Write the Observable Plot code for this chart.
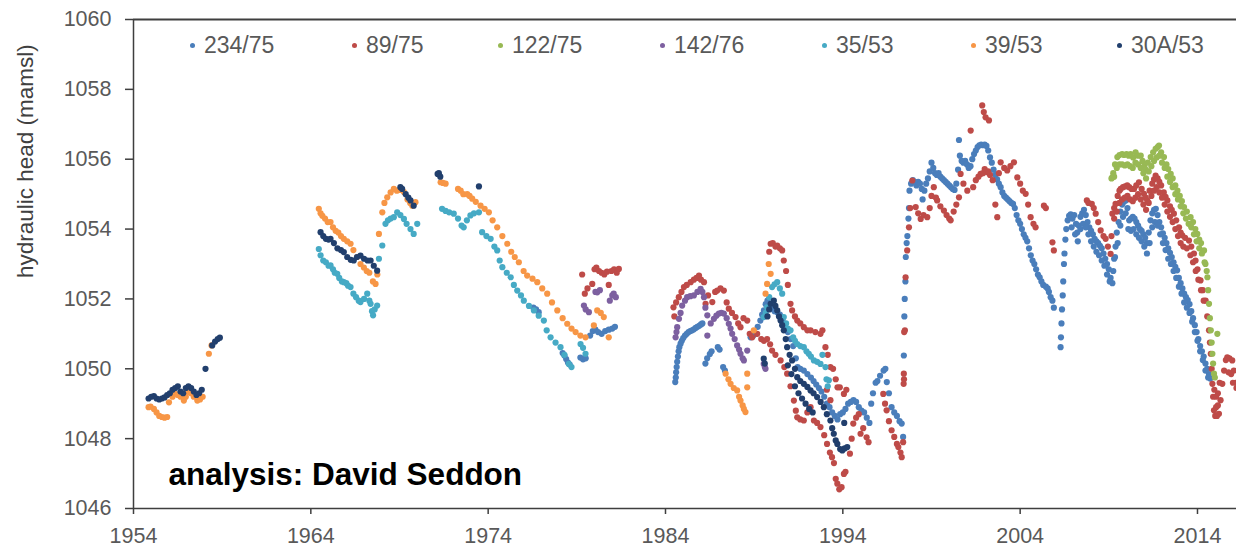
<!DOCTYPE html>
<html>
<head>
<meta charset="utf-8">
<script src="https://cdn.jsdelivr.net/npm/d3@7"></script>
<script src="https://cdn.jsdelivr.net/npm/@observablehq/plot@0.6"></script>
<style>
  html, body { margin: 0; padding: 0; background: #fff; }
  #wrap { position: relative; width: 1236px; height: 548px; overflow: hidden; font-family: "Liberation Sans", Arial, sans-serif; }
  #legend { position: absolute; top: 32px; left: 0; width: 1236px; height: 30px; }
  .item { position: absolute; top: 0; display: flex; align-items: center; font-size: 23px; color: #595959; white-space: nowrap; }
  .item i { display: inline-block; width: 5px; height: 5px; border-radius: 50%; margin-right: 9px; }
</style>
</head>
<body>
<div id="wrap"><div id="legend"></div></div>
<script>
// Observation wells, in legend order
const wells = ["234/75", "89/75", "122/75", "142/76", "35/53", "39/53", "30A/53"];
const wellColors = ["#4a7ebb", "#be4b48", "#98b954", "#7d60a0", "#46aac5", "#f79646", "#213f6d"];
const legendLeft = [190, 352, 498, 660, 822, 971, 1117];

const xTicks = [1954, 1964, 1974, 1984, 1994, 2004, 2014];
const yTicks = [1046, 1048, 1050, 1052, 1054, 1056, 1058, 1060];
const yLabel = "hydraulic head (mamsl)";
const credit = "analysis: David Seddon";

// [year, hydraulic head in metres above mean sea level]
const s234_75 = [
  [1976.55,1051.75],[1976.7,1051.7],[1976.85,1051.62],
  [1978.2,1050.45],[1978.3,1050.38],[1978.4,1050.28],[1978.5,1050.18],[1978.6,1050.12],
  [1979.2,1050.32],[1979.35,1050.27],[1979.5,1050.3],[1979.75,1050.95],[1979.9,1051.08],[1980.05,1051.12],[1980.2,1051.05],[1980.4,1051.0],[1980.6,1051.08],[1980.8,1051.12],[1981.0,1051.15],[1981.15,1051.2],
  [1984.55,1049.62],[1984.58,1049.75],[1984.6,1049.9],[1984.63,1050.05],[1984.66,1050.2],[1984.7,1050.35],[1984.74,1050.5],[1984.78,1050.62],[1984.85,1050.72],[1984.92,1050.8],[1985.0,1050.88],[1985.1,1050.95],[1985.2,1051.0],[1985.3,1051.05],[1985.4,1051.08],[1985.5,1051.1],[1985.6,1051.13],[1985.7,1051.17],[1985.8,1051.2],[1985.9,1051.23],[1986.0,1051.27],[1986.08,1051.3],
  [1986.25,1050.15],[1986.35,1050.3],[1986.5,1050.42],[1986.6,1050.5],[1986.95,1050.62],[1987.05,1050.55],[1987.25,1050.05],[1987.35,1049.95],
  [1988.8,1050.9],[1988.95,1050.95],[1989.1,1051.0],[1989.2,1051.2],[1989.35,1051.38],[1989.45,1051.55],[1989.55,1051.67],[1989.65,1051.85],[1989.75,1051.95],[1989.85,1051.85],[1990.0,1051.72],[1990.15,1051.65],[1990.3,1051.62],[1990.45,1051.55],[1990.6,1051.4],[1990.75,1051.2],[1990.9,1051.05],[1991.05,1050.85],[1991.2,1050.65],[1991.35,1050.3],[1991.45,1050.05],[1991.6,1050.0],[1991.8,1049.95],[1992.0,1049.85],[1992.2,1049.75],[1992.35,1049.65],[1992.5,1049.55],[1992.65,1049.45],[1992.8,1049.35],[1992.95,1049.2],[1993.1,1049.0],[1993.25,1048.9],[1993.4,1048.75],[1993.55,1048.65],
  [1993.7,1048.55],[1993.85,1048.7],[1994.0,1048.75],[1994.15,1048.85],[1994.3,1049.0],[1994.45,1049.05],[1994.6,1049.1],[1994.75,1049.05],[1994.9,1048.9],[1995.05,1048.8],[1995.2,1048.75],[1995.35,1048.6],[1995.5,1048.45],[1995.6,1049.0],[1995.7,1049.3],[1995.85,1049.6],[1995.95,1049.65],[1996.1,1049.8],[1996.3,1049.95],[1996.4,1050.0],[1996.48,1049.62],[1996.6,1049.3],[1996.75,1048.9],[1996.9,1048.75],[1997.05,1048.65],[1997.2,1048.5],[1997.32,1048.43],[1997.4,1048.05],
  [1997.44,1050.38],[1997.47,1051.5],[1997.49,1052.0],[1997.53,1052.5],[1997.55,1053.2],[1997.6,1053.6],[1997.64,1053.8],[1997.7,1054.3],[1997.73,1054.6],[1997.76,1055.1],[1997.85,1055.3],
  [1997.95,1055.4],[1998.05,1055.35],[1998.15,1055.25],[1998.25,1055.35],[1998.35,1055.3],[1998.45,1055.15],[1998.5,1054.85],[1998.6,1055.1],[1998.7,1055.3],[1998.8,1055.45],[1998.9,1055.65],[1999.0,1055.9],[1999.1,1055.75],[1999.2,1055.6],[1999.3,1055.55],[1999.4,1055.6],[1999.5,1055.5],[1999.6,1055.45],[1999.7,1055.4],[1999.8,1055.35],[1999.9,1055.3],[2000.0,1055.25],[2000.1,1055.2],[2000.2,1055.15],[2000.3,1055.12],[2000.4,1055.3],[2000.5,1055.7],[2000.55,1056.55],[2000.6,1056.1],[2000.7,1055.95],[2000.8,1055.9],[2000.9,1055.95],[2001.0,1055.85],[2001.1,1055.75],[2001.2,1055.8],[2001.3,1056.0],[2001.4,1056.15],[2001.5,1056.25],[2001.6,1056.35],[2001.7,1056.4],[2001.8,1056.42],[2001.9,1056.4],[2002.0,1056.42],[2002.1,1056.38],[2002.2,1056.25],[2002.3,1056.05],[2002.4,1055.9],[2002.5,1055.7],[2002.6,1055.55],[2002.7,1055.42],[2002.8,1055.3],[2002.9,1055.2],[2003.0,1055.05],[2003.1,1054.95],[2003.2,1054.9],[2003.3,1054.85],[2003.4,1054.8],[2003.5,1054.75],[2003.6,1054.72],[2003.7,1054.6],[2003.8,1054.4],[2003.9,1054.25],[2004.0,1054.15],[2004.1,1054.0],[2004.2,1053.85],[2004.3,1053.75],[2004.4,1053.65],[2004.5,1053.45],[2004.6,1053.25],[2004.7,1053.1],[2004.8,1053.0],[2004.9,1052.85],[2005.0,1052.7],[2005.1,1052.62],[2005.2,1052.5],[2005.3,1052.4],[2005.45,1052.35],[2005.55,1052.3],[2005.62,1052.2],[2005.72,1052.05],[2005.82,1051.95],[2005.9,1051.75],
  [2006.28,1050.62],[2006.3,1050.9],[2006.33,1051.3],[2006.36,1051.7],[2006.4,1052.1],[2006.43,1052.5],[2006.47,1053.0],[2006.5,1053.3],[2006.55,1053.7],[2006.6,1054.0],[2006.68,1054.25],[2006.76,1054.38],[2006.85,1054.42],[2006.95,1054.3],[2007.05,1054.4],[2007.15,1054.15],[2007.22,1053.9],[2007.3,1054.1],[2007.4,1054.35],[2007.5,1054.45],[2007.6,1054.55],[2007.7,1054.4],[2007.8,1054.2],[2007.9,1054.05],[2008.0,1053.95],[2008.1,1053.85],[2008.2,1053.72],[2008.3,1053.65],[2008.4,1053.6],[2008.5,1053.52],[2008.6,1053.45],[2008.7,1053.3],[2008.8,1053.15],[2008.9,1053.0],[2009.0,1052.85],[2009.1,1052.6],[2009.2,1052.45],[2009.25,1052.8],[2009.3,1053.15],[2009.38,1053.5],[2009.45,1053.9],[2009.55,1054.2],[2009.65,1054.5],[2009.75,1054.7],[2009.85,1054.78],[2009.95,1054.82],[2010.05,1054.6],[2010.15,1054.25],[2010.25,1054.3],[2010.35,1054.35],[2010.45,1054.3],[2010.55,1054.2],[2010.65,1054.1],[2010.75,1054.0],[2010.85,1053.95],[2010.95,1053.85],[2011.05,1053.75],[2011.15,1053.6],[2011.25,1053.9],[2011.35,1054.25],[2011.45,1054.45],[2011.55,1054.55],[2011.65,1054.58],[2011.75,1054.4],[2011.85,1054.2],[2011.95,1054.05],[2012.05,1053.88],[2012.15,1053.75],[2012.25,1053.6],[2012.35,1053.45],[2012.45,1053.32],[2012.55,1053.2],[2012.65,1053.05],[2012.75,1052.92],[2012.85,1052.82],[2012.95,1052.6],[2013.05,1052.45],[2013.15,1052.3],[2013.25,1052.15],[2013.35,1052.05],[2013.45,1051.97],[2013.55,1051.85],[2013.65,1051.65],[2013.75,1051.45],[2013.85,1051.25],[2013.95,1051.05],[2014.05,1050.85],[2014.15,1050.65],[2014.25,1050.5],[2014.35,1050.35],[2014.45,1050.15],[2014.55,1050.0],[2014.65,1049.85],[2014.72,1049.72],
  [2006.9,1054.05],[2007.1,1053.85],[2007.25,1053.65],[2007.4,1054.0],[2007.55,1054.15],[2007.7,1054.05],[2007.85,1053.85],[2008.0,1053.65],[2008.15,1053.5],[2008.3,1053.35],[2008.45,1053.25],[2008.6,1053.1],[2008.75,1052.95],[2008.9,1052.7],[2009.05,1052.5],[2009.35,1053.2],[2009.5,1053.6],[2009.65,1054.1],[2009.8,1054.35],[2009.95,1054.45],[2010.1,1054.0],[2010.25,1053.95],[2010.4,1054.0],[2010.55,1053.85],[2010.7,1053.75],[2010.85,1053.65],[2011.0,1053.5],[2011.15,1053.3],[2011.3,1053.6],[2011.45,1054.05],[2011.6,1054.2],[2011.75,1054.1],[2011.9,1053.85],[2012.05,1053.6],[2012.2,1053.4],[2012.35,1053.15],[2012.5,1053.0],[2012.65,1052.8],[2012.8,1052.6],[2012.95,1052.35],[2013.1,1052.15],[2013.25,1051.9],[2013.4,1051.75],[2013.55,1051.6],[2013.7,1051.35],[2013.85,1051.05],[2014.0,1050.8],[2014.15,1050.5],[2014.3,1050.25],[2014.45,1049.95],[2014.6,1049.75]
];

const s89_75 = [
  [1979.3,1052.7],[1979.45,1052.15],[1979.6,1052.3],[1979.87,1052.43],[1980.0,1052.85],[1980.1,1052.9],[1980.25,1052.8],[1980.4,1052.75],[1980.55,1052.7],[1980.7,1052.78],[1980.8,1052.4],[1980.95,1052.8],[1981.1,1052.85],[1981.25,1052.75],[1981.37,1052.86],
  [1984.45,1051.76],[1984.5,1051.5],[1984.6,1051.9],[1984.75,1052.05],[1984.9,1052.2],[1985.04,1052.34],[1985.2,1052.4],[1985.42,1052.48],[1985.6,1052.55],[1985.75,1052.6],[1985.89,1052.67],[1986.0,1052.55],[1986.17,1052.48],[1986.26,1051.86],[1986.4,1052.1],[1986.64,1051.91],[1986.8,1052.2],[1986.92,1052.24],[1987.1,1052.3],[1987.29,1052.24],[1987.45,1051.9],[1987.57,1051.72],[1987.75,1051.6],[1987.95,1051.48],[1988.1,1051.3],[1988.23,1051.19],[1988.4,1051.45],[1988.61,1051.38],[1988.75,1051.0],[1988.89,1050.9],[1989.17,1051.0],[1989.4,1050.85],[1989.55,1050.8],[1989.73,1050.85],
  [1989.85,1053.35],[1989.93,1053.58],[1990.05,1053.6],[1990.2,1053.5],[1990.3,1053.53],[1990.45,1053.45],[1990.58,1053.39],[1990.67,1053.1],[1990.8,1052.8],[1990.9,1052.4],[1991.05,1051.86],[1991.14,1051.67],[1991.3,1051.5],[1991.43,1051.38],[1991.6,1051.3],[1991.8,1051.19],[1992.0,1051.1],[1992.18,1051.1],[1992.45,1051.05],[1992.74,1051.0],[1992.85,1051.1],[1993.02,1050.62],[1993.15,1050.4],[1993.3,1050.05],[1993.45,1050.0],[1993.6,1049.7],[1993.83,1049.47],
  [1989.9,1050.7],[1990.01,1050.52],[1990.2,1050.4],[1990.49,1050.24],[1990.7,1050.05],[1990.86,1049.86],[1991.05,1049.5],[1991.24,1049.09],[1991.35,1048.8],[1991.43,1048.61],[1991.6,1048.55],[1991.8,1048.52],[1992.0,1048.75],[1992.18,1048.9],[1992.37,1048.52],[1992.55,1048.45],[1992.74,1048.33],[1992.95,1048.1],[1993.11,1047.85],[1993.27,1047.6],[1993.39,1047.47],[1993.5,1047.3],[1993.6,1046.85],[1993.69,1046.71],[1993.8,1046.55],[1993.93,1046.61],[1994.06,1046.99],[1994.15,1047.05],
  [1993.1,1049.4],[1993.3,1049.1],[1993.7,1049.47],[1994.06,1049.28],[1994.2,1049.4],
  [1994.4,1047.57],[1994.5,1048.0],[1994.59,1048.43],[1994.75,1048.6],[1994.9,1048.7],[1995.0,1048.14],[1995.15,1048.3],[1995.34,1048.04],[1995.45,1047.9],
  [1996.28,1049.28],[1996.38,1049.0],[1996.47,1048.81],[1996.6,1048.5],[1996.75,1048.24],[1996.9,1048.05],[1997.05,1047.85],[1997.13,1047.76],[1997.25,1047.6],[1997.32,1047.47],[1997.4,1047.9],[1997.43,1049.57],[1997.45,1049.7],[1997.46,1051.05],
  [1997.44,1049.86],[1997.5,1051.1],[1997.54,1052.62],[1997.63,1053.39],[1997.73,1054.05],[1997.8,1054.6],[1997.92,1055.39],[1998.11,1054.63],[1998.25,1054.45],[1998.39,1054.29],[1998.55,1054.4],[1998.76,1054.34],[1998.9,1054.6],[1999.0,1054.95],[1999.13,1055.2],[1999.25,1054.9],[1999.32,1054.82],[1999.5,1054.65],[1999.7,1054.53],[1999.85,1054.4],[2000.0,1054.3],[2000.08,1054.25],[2000.25,1054.5],[2000.4,1054.7],[2000.55,1054.91],[2000.64,1055.58],[2000.8,1055.3],[2001.02,1055.1],[2001.21,1056.82],[2001.35,1055.2],[2001.5,1055.4],[2001.65,1055.5],[2001.77,1055.58],[2001.86,1057.54],[2001.95,1057.35],[2002.05,1057.2],[2002.14,1055.63],[2002.24,1057.11],[2002.3,1055.55],[2002.45,1055.4],[2002.6,1054.7],[2002.71,1054.34],[2002.8,1055.6],[2002.9,1055.91],[2003.1,1055.75],[2003.27,1055.68],[2003.45,1055.8],[2003.65,1055.91],[2003.84,1055.48],[2004.0,1055.3],[2004.15,1055.1],[2004.31,1055.01],[2004.45,1054.7],[2004.59,1054.34],[2004.75,1054.15],[2004.87,1054.05],[2005.34,1054.67],[2005.45,1054.6],[2005.82,1053.62],[2005.9,1053.39],
  [2001.9,1055.6],[2002.0,1055.72],[2002.2,1055.65],
  [2007.76,1054.82],[2007.85,1054.75],[2008.04,1054.72],[2008.15,1054.6],[2008.26,1054.44],[2008.4,1054.2],[2008.54,1053.96],[2008.7,1053.8],[2008.82,1053.72],[2008.95,1053.5],[2009.1,1053.29],[2009.15,1053.8],[2009.2,1054.44],[2009.3,1054.6],[2009.38,1054.72],[2009.5,1054.95],[2009.6,1055.1],[2009.67,1055.15],[2009.8,1055.2],[2009.92,1055.22],[2010.04,1055.25],[2010.15,1055.2],[2010.28,1055.15],[2010.42,1055.15],[2010.55,1055.25],[2010.7,1055.34],[2010.85,1055.15],[2010.98,1055.01],[2011.08,1054.9],[2011.17,1054.82],[2011.3,1055.1],[2011.45,1055.3],[2011.55,1055.42],[2011.64,1055.53],[2011.75,1055.45],[2011.85,1055.35],[2011.95,1055.25],[2012.1,1055.05],[2012.2,1054.92],[2012.3,1054.82],[2012.45,1054.65],[2012.55,1054.55],[2012.67,1054.44],[2012.8,1054.25],[2012.96,1054.05],[2013.05,1053.9],[2013.14,1053.82],[2013.3,1053.75],[2013.52,1053.67],[2013.65,1053.5],[2013.8,1053.3],[2013.89,1053.1],[2014.0,1052.85],[2014.17,1052.53],[2014.3,1052.25],[2014.46,1051.95],[2014.55,1051.5],[2014.65,1051.1],[2014.7,1050.75],[2014.75,1050.43],[2014.8,1050.0],[2014.84,1049.57],[2014.88,1049.2],[2014.93,1048.81],[2015.0,1048.65],[2015.1,1048.65],[2015.21,1048.71],[2015.3,1049.1],[2015.4,1049.57],[2015.5,1049.95],[2015.6,1050.25],[2015.68,1050.33],[2015.8,1050.3],[2015.96,1050.24],[2016.05,1049.95],[2016.15,1049.6],[2016.2,1049.45],
  [2014.95,1049.4],[2015.05,1049.2],[2015.15,1049.3],[2015.25,1049.6],[2015.05,1048.9],[2015.15,1048.95],[2015.75,1049.9],[2015.9,1049.85],[2016.0,1049.6],
  [2009.3,1054.3],[2009.45,1054.5],[2009.6,1054.75],[2009.75,1054.85],[2009.9,1054.9],[2010.05,1054.95],[2010.2,1054.85],[2010.35,1054.8],[2010.5,1054.9],[2010.65,1055.0],[2010.8,1054.85],[2010.95,1054.7],[2011.1,1054.55],[2011.25,1054.75],[2011.4,1054.95],[2011.55,1055.1],[2011.7,1055.2],[2011.85,1055.05],[2012.0,1054.9],[2012.15,1054.7],[2012.3,1054.5],[2012.45,1054.35],[2012.6,1054.2],[2012.75,1054.0],[2012.9,1053.8],[2013.05,1053.6],[2013.2,1053.5],[2013.4,1053.45],[2013.6,1053.25],[2013.75,1053.05],[2013.9,1052.8],[2014.05,1052.55],[2014.2,1052.25],[2014.35,1051.95]
];

const s122_75 = [
  [2009.15,1055.45],[2009.2,1055.48],[2009.25,1055.6],[2009.35,1055.85],[2009.48,1056.06],[2009.6,1056.12],[2009.75,1056.15],[2009.86,1056.12],[2010.0,1056.15],[2010.12,1056.1],[2010.23,1056.15],[2010.37,1056.05],[2010.51,1056.2],[2010.65,1056.1],[2010.8,1056.1],[2010.9,1055.95],[2011.0,1055.8],[2011.08,1055.7],[2011.2,1055.9],[2011.36,1056.06],[2011.5,1056.2],[2011.64,1056.3],[2011.75,1056.35],[2011.83,1056.39],[2011.95,1056.2],[2012.11,1056.06],[2012.25,1055.85],[2012.35,1055.72],[2012.49,1055.58],[2012.6,1055.45],[2012.75,1055.25],[2012.87,1055.1],[2013.0,1054.95],[2013.12,1054.8],[2013.24,1054.63],[2013.4,1054.5],[2013.61,1054.34],[2013.75,1054.2],[2013.88,1054.0],[2013.99,1053.86],[2014.1,1053.7],[2014.2,1053.6],[2014.37,1053.39],[2014.45,1053.0],[2014.52,1052.8],[2014.56,1052.62],[2014.6,1052.25],[2014.65,1051.86],[2014.7,1051.45],[2014.75,1051.1],[2014.8,1050.75],[2014.84,1050.43],[2014.88,1050.15],[2014.93,1049.86],[2014.98,1049.75],[2015.12,1051.0],
  [2009.3,1055.5],[2009.45,1055.75],[2009.6,1055.85],[2009.75,1055.85],[2009.9,1055.82],[2010.05,1055.85],[2010.2,1055.8],[2010.35,1055.75],[2010.5,1055.9],[2010.65,1055.85],[2010.8,1055.75],[2010.95,1055.6],[2011.1,1055.45],[2011.25,1055.65],[2011.4,1055.8],[2011.55,1055.95],[2011.7,1056.05],[2011.85,1056.1],[2012.0,1055.9],[2012.15,1055.75],[2012.3,1055.5],[2012.45,1055.35],[2012.6,1055.2],[2012.75,1055.0],[2012.9,1054.85],[2013.05,1054.65],[2013.2,1054.45],[2013.35,1054.3],[2013.5,1054.15],[2013.65,1054.05],[2013.8,1053.85],[2013.95,1053.65],[2014.1,1053.45],[2014.25,1053.3],[2014.4,1053.05]
];

const s142_76 = [
  [1979.4,1051.81],[1979.5,1051.7],[1979.68,1051.62],[1980.05,1052.2],[1980.15,1052.19],[1980.3,1052.25],[1980.86,1051.95],[1981.0,1052.1],[1981.08,1052.15],[1981.2,1052.05],
  [1984.57,1050.9],[1984.62,1051.05],[1984.66,1051.19],[1984.76,1051.43],[1984.85,1051.6],[1984.94,1051.81],[1985.1,1051.95],[1985.22,1052.05],[1985.4,1052.08],[1985.6,1052.1],[1985.8,1052.2],[1985.98,1052.29],[1986.08,1052.2],[1986.17,1052.05],[1986.25,1051.75],[1986.36,1051.53],[1986.36,1050.95],[1986.55,1051.3],[1986.73,1051.43],[1986.87,1051.52],[1987.01,1051.58],[1987.15,1051.6],[1987.29,1051.58],[1987.45,1051.45],[1987.57,1051.29],[1987.67,1051.15],[1987.76,1051.0],[1987.9,1050.85],[1988.04,1050.67],[1988.15,1050.55],[1988.23,1050.43],[1988.35,1050.3],[1988.42,1050.24],[1988.61,1050.52],[1989.54,1050.14],[1989.6,1050.05],[1989.64,1050.0]
];

const s35_53 = [
  [1964.45,1053.43],[1964.55,1053.25],[1964.7,1053.1],[1964.85,1053.05],[1965.0,1052.95],[1965.11,1052.96],[1965.25,1052.85],[1965.35,1052.75],[1965.49,1052.72],[1965.6,1052.6],[1965.75,1052.5],[1965.86,1052.48],[1966.0,1052.45],[1966.1,1052.38],[1966.24,1052.34],[1966.4,1052.15],[1966.55,1052.05],[1966.7,1051.95],[1966.8,1051.91],[1967.0,1052.0],[1967.18,1052.15],[1967.3,1051.95],[1967.37,1051.86],[1967.45,1051.65],[1967.51,1051.53],[1967.6,1051.7],[1967.74,1051.81],
  [1967.84,1053.15],[1968.03,1053.53],[1968.21,1054.15],[1968.35,1054.25],[1968.5,1054.3],[1968.68,1054.34],[1968.87,1054.48],[1969.05,1054.4],[1969.25,1054.29],[1969.4,1054.15],[1969.62,1054.0],[1969.8,1053.86],[1970.0,1054.15],
  [1971.4,1054.58],[1971.6,1054.52],[1971.8,1054.48],[1972.06,1054.44],[1972.3,1054.3],[1972.5,1054.1],[1972.62,1054.05],[1972.8,1054.25],[1973.0,1054.39],[1973.2,1054.45],[1973.48,1054.48],[1973.66,1053.91],[1973.9,1053.8],[1974.14,1053.72],[1974.35,1053.5],[1974.51,1053.39],[1974.65,1053.1],[1974.8,1052.91],[1975.05,1052.75],[1975.27,1052.62],[1975.45,1052.4],[1975.64,1052.24],[1975.85,1052.1],[1976.01,1051.95],[1976.3,1051.8],[1976.58,1051.67],[1976.85,1051.52],[1977.14,1051.38],[1977.3,1051.1],[1977.52,1050.9],[1977.8,1050.75],[1978.08,1050.62],[1978.3,1050.4],[1978.55,1050.14],[1978.7,1050.05],[1979.21,1050.71],[1979.35,1050.6],[1979.49,1050.43],
  [1989.54,1051.48],[1989.65,1051.6],[1989.73,1051.76],[1989.85,1052.05],[1990.01,1052.34],[1990.15,1052.42],[1990.3,1052.48],[1990.45,1052.3],[1990.58,1052.15],[1990.67,1051.48],[1990.8,1051.3],[1990.9,1051.15],[1991.05,1051.1],[1991.2,1050.9],[1991.3,1050.8],[1991.43,1050.71],[1991.6,1050.65],[1991.8,1050.62],[1991.95,1050.5],[1992.08,1050.43],[1992.2,1050.35],[1992.37,1050.24],[1992.55,1050.2],[1992.74,1050.14],[1992.85,1050.4],[1993.02,1050.05],[1993.08,1049.7],[1993.15,1049.5],[1993.21,1049.67]
];

const s39_53 = [
  [1954.85,1048.9],[1954.96,1048.92],[1955.15,1048.85],[1955.3,1048.75],[1955.45,1048.65],[1955.6,1048.62],[1955.75,1048.6],[1955.9,1048.62],[1956.0,1049.04],[1956.2,1049.2],[1956.35,1049.28],[1956.5,1049.25],[1956.65,1049.2],[1956.84,1049.09],[1956.95,1049.2],[1957.1,1049.33],[1957.25,1049.3],[1957.4,1049.2],[1957.6,1049.09],[1957.75,1049.12],[1957.9,1049.2],[1958.25,1050.43],[1958.4,1050.67],
  [1964.45,1054.58],[1964.55,1054.45],[1964.65,1054.38],[1964.8,1054.3],[1964.95,1054.2],[1965.11,1054.2],[1965.25,1054.05],[1965.4,1053.95],[1965.55,1053.9],[1965.7,1053.8],[1965.86,1053.72],[1966.05,1053.65],[1966.24,1053.58],[1966.4,1053.4],[1966.61,1053.2],[1966.8,1053.0],[1966.99,1052.9],[1967.15,1052.8],[1967.3,1052.75],[1967.5,1052.5],[1967.65,1052.43],[1967.75,1052.7],[1967.84,1053.86],[1968.03,1054.48],[1968.15,1054.75],[1968.31,1054.91],[1968.5,1055.05],[1968.68,1055.15],[1968.85,1055.1],[1969.05,1055.12],[1969.25,1055.06],[1969.45,1054.85],[1969.6,1054.75],[1969.72,1054.67],[1969.9,1054.77],
  [1971.32,1055.34],[1971.45,1055.32],[1971.6,1055.3],[1972.3,1055.15],[1972.45,1055.1],[1972.6,1055.0],[1972.82,1055.0],[1972.95,1054.95],[1973.1,1054.87],[1973.3,1054.78],[1973.57,1054.67],[1973.8,1054.58],[1974.04,1054.48],[1974.25,1054.25],[1974.51,1054.05],[1974.8,1053.8],[1975.08,1053.58],[1975.3,1053.35],[1975.5,1053.2],[1975.73,1053.05],[1976.0,1052.8],[1976.2,1052.67],[1976.5,1052.58],[1976.77,1052.48],[1977.05,1052.3],[1977.33,1052.15],[1977.6,1051.9],[1977.9,1051.67],[1978.2,1051.45],[1978.46,1051.29],[1978.7,1051.15],[1978.93,1051.05],[1979.2,1050.95],[1979.49,1050.9],[1979.96,1051.24],[1980.15,1051.67],[1980.35,1051.6],[1980.52,1051.48],[1980.8,1050.9],
  [1987.39,1049.86],[1987.55,1049.7],[1987.67,1049.57],[1987.85,1049.45],[1988.04,1049.38],[1988.15,1049.2],[1988.23,1049.09],[1988.35,1048.95],[1988.42,1048.85],[1988.51,1048.76],[1988.61,1049.86],[1988.61,1049.47],[1988.98,1051.1],[1989.64,1052.15],[1989.73,1052.43],[1989.82,1053.0],[1989.93,1052.72]
];

const s30A_53 = [
  [1954.85,1049.15],[1955.0,1049.2],[1955.15,1049.22],[1955.3,1049.15],[1955.45,1049.12],[1955.6,1049.15],[1955.75,1049.18],[1955.9,1049.25],[1956.05,1049.3],[1956.2,1049.4],[1956.35,1049.45],[1956.5,1049.5],[1956.65,1049.35],[1956.8,1049.3],[1956.95,1049.45],[1957.1,1049.5],[1957.25,1049.45],[1957.4,1049.35],[1957.55,1049.25],[1957.7,1049.3],[1957.85,1049.4],[1958.06,1050.0],[1958.44,1050.67],[1958.6,1050.78],[1958.75,1050.85],[1958.87,1050.89],
  [1964.55,1053.91],[1964.7,1053.8],[1964.85,1053.72],[1965.0,1053.7],[1965.11,1053.72],[1965.3,1053.6],[1965.5,1053.45],[1965.7,1053.4],[1965.86,1053.34],[1966.05,1053.2],[1966.25,1053.12],[1966.42,1053.1],[1966.6,1053.2],[1966.8,1053.24],[1967.0,1053.15],[1967.2,1053.1],[1967.37,1053.1],[1967.55,1052.95],[1967.74,1052.81],
  [1969.05,1055.2],[1969.15,1055.15],[1969.35,1055.0],[1969.5,1054.9],[1969.62,1054.82],[1969.8,1054.67],
  [1971.15,1055.58],[1971.22,1055.6],[1971.3,1055.5],[1973.48,1055.22],
  [1989.54,1050.29],[1989.6,1050.15],[1989.75,1051.5],[1989.85,1051.7],[1989.93,1051.86],[1990.11,1051.95],[1990.2,1051.8],[1990.3,1051.67],[1990.4,1051.5],[1990.49,1051.38],[1990.58,1051.25],[1990.67,1051.1],[1990.78,1050.85],[1990.86,1050.62],[1991.0,1050.4],[1991.14,1050.24],[1991.3,1050.0],[1991.43,1049.76],[1991.6,1049.65],[1991.8,1049.57],[1992.0,1049.48],[1992.18,1049.38],[1992.35,1049.3],[1992.55,1049.19],[1992.75,1049.05],[1992.93,1048.9],[1993.1,1048.7],[1993.3,1048.52],[1993.4,1048.3],[1993.49,1048.14],[1993.6,1047.95],[1993.69,1047.85],[1993.85,1047.7],[1993.97,1047.66],[1994.1,1047.72],[1994.25,1047.76],[1994.08,1048.45],
  [1990.9,1050.1],[1991.1,1049.85],[1991.3,1049.5],[1991.5,1049.3],[1991.7,1049.15],[1991.9,1049.0],[1992.1,1048.85],[1992.3,1048.75]
];

const wellPoints = [s234_75, s89_75, s122_75, s142_76, s35_53, s39_53, s30A_53];

// long table for Plot: one row per reading, drawn in legend order
const readings = wells.flatMap((well, i) =>
  wellPoints[i].map(([year, head]) => ({well, year, head}))
);

const axisInk = "#3f3f3f";
const labelInk = "#595959";

const chart = Plot.plot({
  width: 1236,
  height: 548,
  marginLeft: 133,
  marginRight: 0,
  marginTop: 19,
  marginBottom: 40,
  style: {
    fontFamily: "'Liberation Sans', Arial, sans-serif",
    fontSize: "21.5px",
    color: labelInk,
    background: "#fff",
    overflow: "visible"
  },
  x: {domain: [1954, 2016.2]},
  y: {domain: [1046, 1060]},
  color: {domain: wells, range: wellColors},
  marks: [
    Plot.axisX({ticks: xTicks, tickFormat: d => String(d), tickSize: 6, tickPadding: 13, label: null, stroke: axisInk, strokeWidth: 1.5, fill: labelInk}),
    Plot.axisY({ticks: yTicks, tickFormat: d => String(d), tickSize: 8, tickPadding: 14, label: null, stroke: axisInk, strokeWidth: 1.5, fill: labelInk}),
    Plot.ruleY([1060], {stroke: axisInk, strokeWidth: 2}),
    Plot.ruleY([1046], {stroke: axisInk, strokeWidth: 1.5}),
    Plot.ruleX([1954], {stroke: axisInk, strokeWidth: 1.5}),
    Plot.dot(readings, {x: "year", y: "head", fill: "well", r: 3.1}),
    Plot.text([yLabel], {frameAnchor: "left", rotate: -90, dx: -108, dy: 14, fontSize: 22.5, fill: "#404040"}),
    Plot.text([credit], {frameAnchor: "bottom-left", textAnchor: "start", lineAnchor: "bottom", dx: 35, dy: -24, fontSize: 31.5, fontWeight: "bold", fill: "#000"})
  ]
});

const wrap = document.getElementById("wrap");
wrap.insertBefore(chart, wrap.firstChild);

// legend drawn inside the plot area, across the top
const legend = document.getElementById("legend");
wells.forEach((well, i) => {
  const item = document.createElement("div");
  item.className = "item";
  item.style.left = legendLeft[i] + "px";
  const swatch = document.createElement("i");
  swatch.style.background = wellColors[i];
  item.appendChild(swatch);
  item.appendChild(document.createTextNode(well));
  legend.appendChild(item);
});
</script>
</body>
</html>
